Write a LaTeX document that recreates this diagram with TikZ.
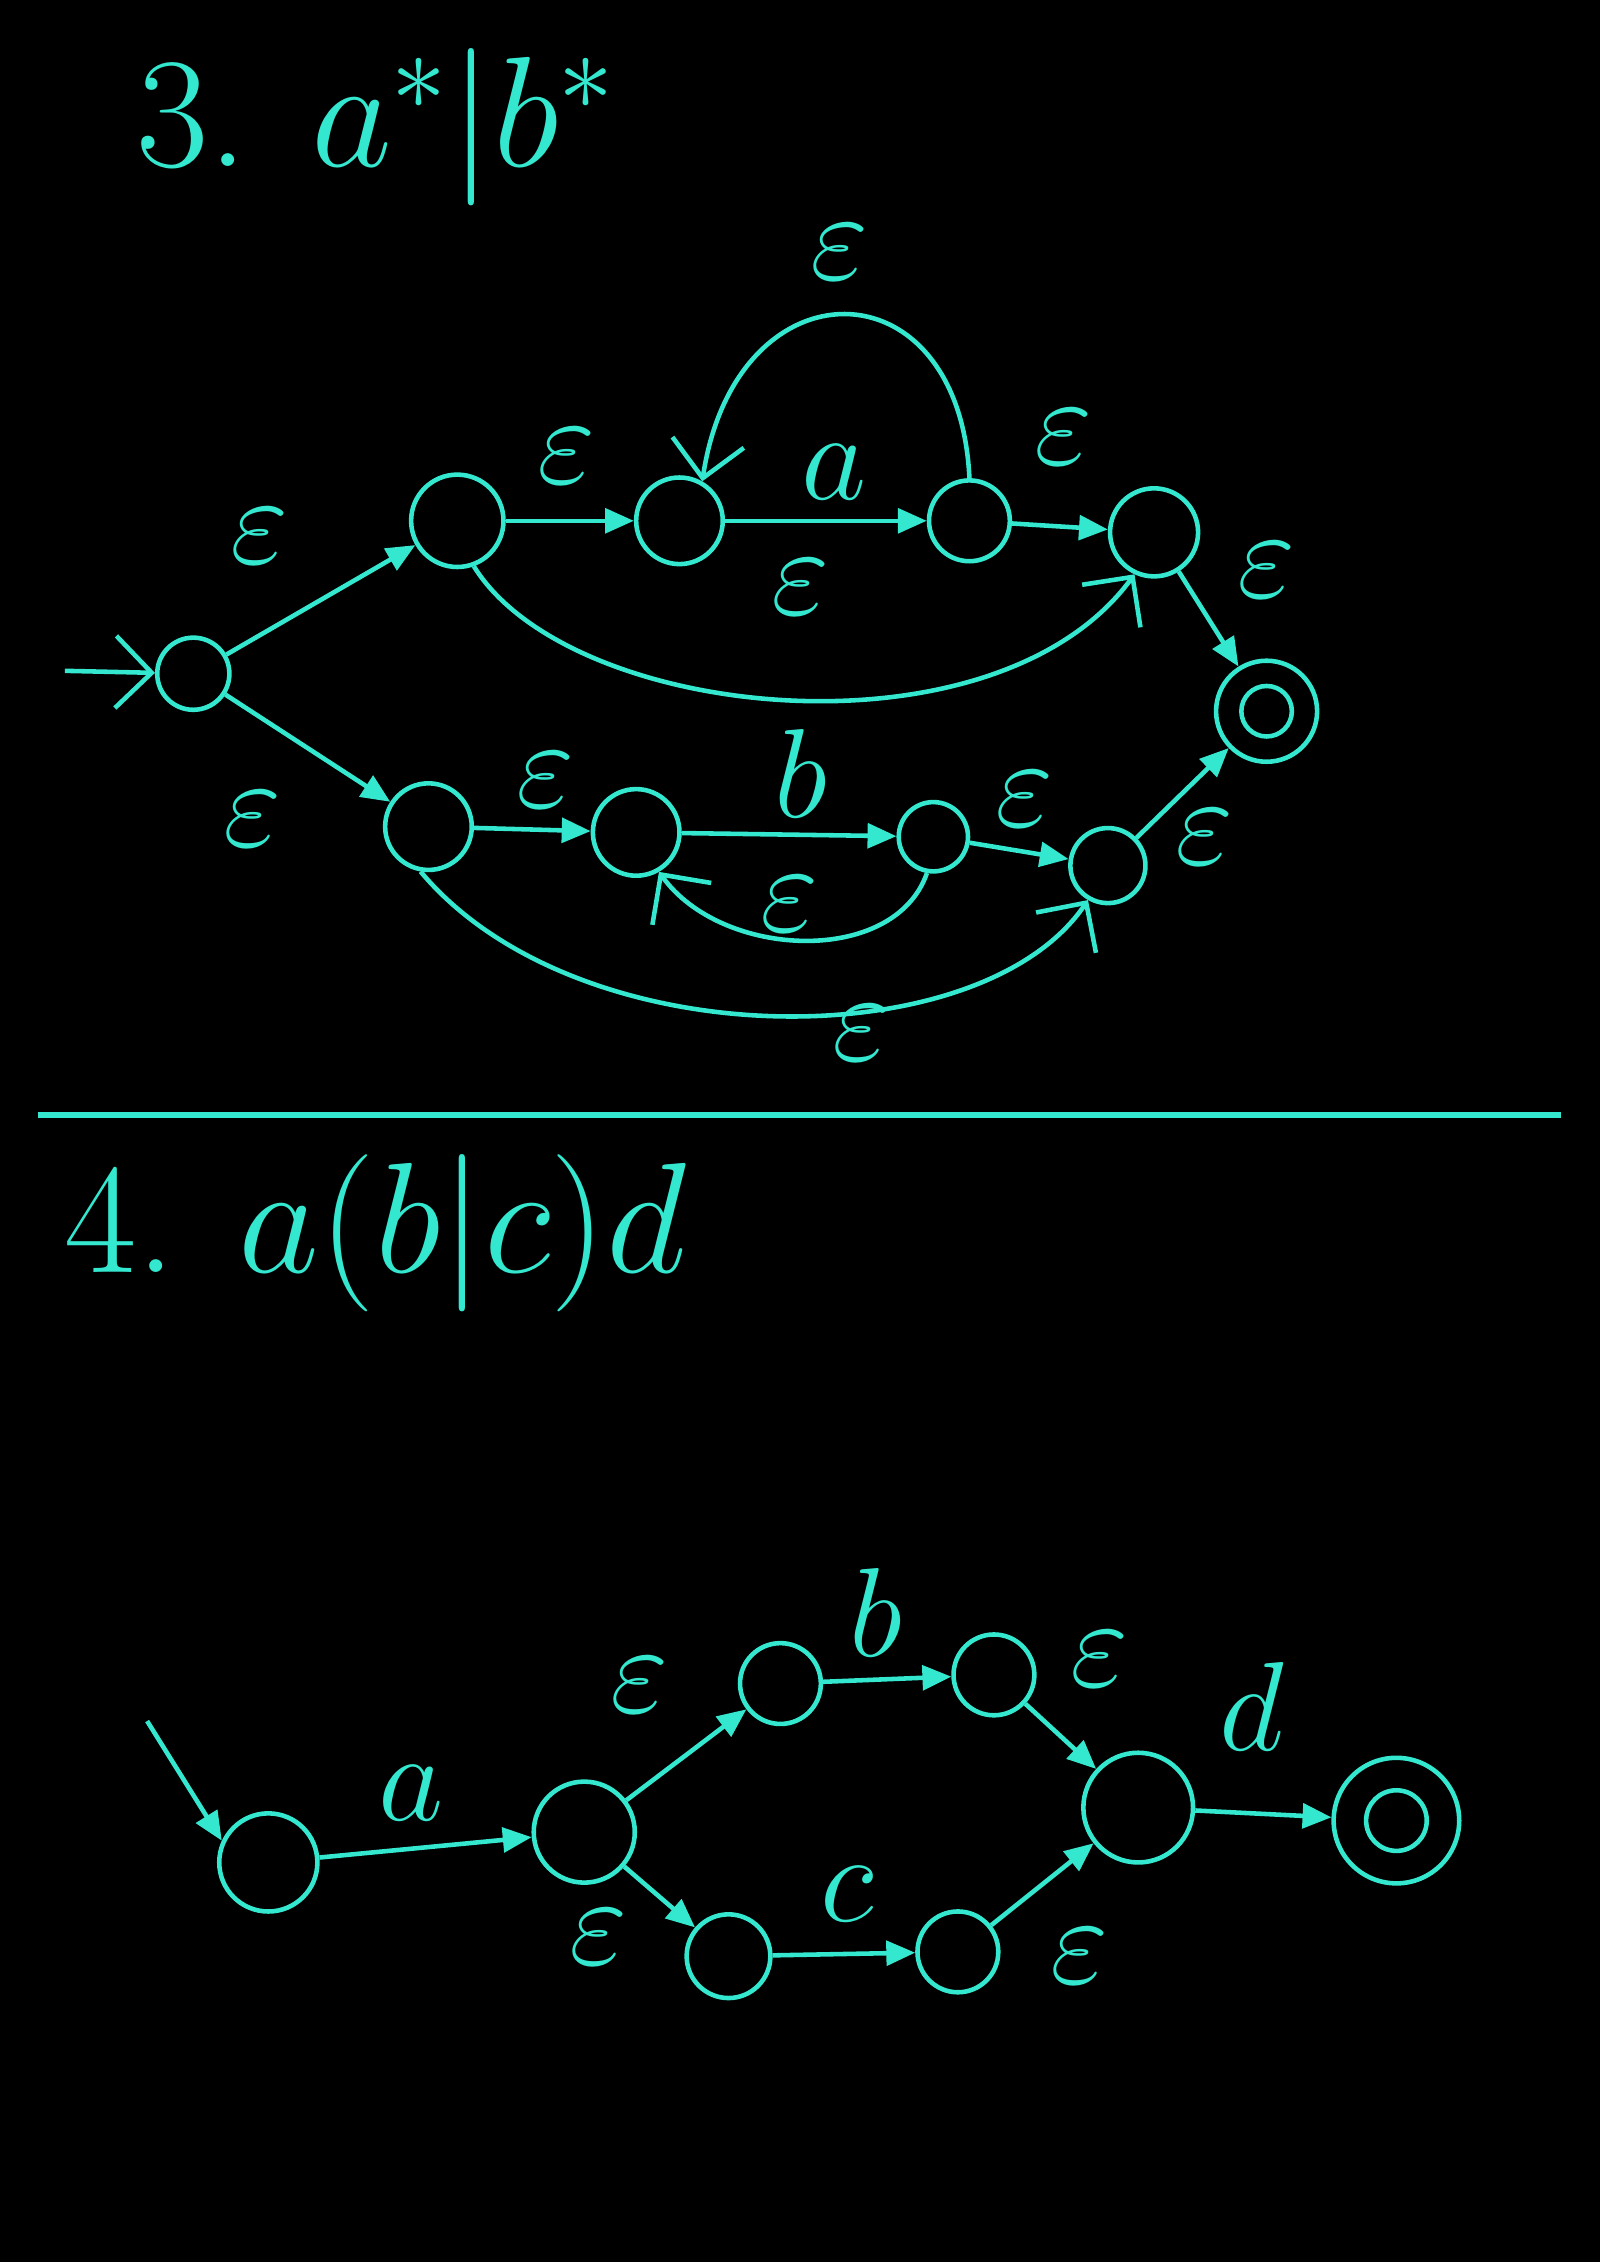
\RequirePackage{fix-cm}
\documentclass[tikz,border=0pt]{standalone}
\usetikzlibrary{arrows.meta}
\definecolor{ink}{RGB}{52,232,208}

\begin{document}
\begin{tikzpicture}[x=0.01cm,y=-0.01cm,>={Triangle[length=2mm,width=1.7mm]},
  state/.style={circle, draw=ink, line width=0.9pt, inner sep=0pt},
  edge/.style={->, draw=ink, line width=0.9pt},
  handedge/.style={-{Straight Barb[length=2.5mm,width=5mm]}, draw=ink, line width=0.9pt},
  lbl/.style={text=ink, inner sep=0.5pt, font=\fontsize{25}{28}\selectfont},
  heading/.style={text=ink, anchor=west, font=\fontsize{31}{36}\selectfont}]

\fill[black] (0,0) rectangle (1109,1568);
\useasboundingbox (0,0) rectangle (1109,1568);

% 3. a*|b*
\node[heading] (h3) at (82,88) {3. $a^*|b^*$};

\node[state, minimum size=0.50cm] (s0) at (134,467) {};
\node[state, minimum size=0.64cm] (s1) at (317,361) {};
\node[state, minimum size=0.60cm] (s2) at (471,361) {};
\node[state, minimum size=0.56cm] (s3) at (672,361) {};
\node[state, minimum size=0.61cm] (s4) at (800,369) {};
\node[state, minimum size=0.70cm] (fa) at (878,493) {};
\node[state, minimum size=0.35cm] (fain) at (fa) {};
\node[state, minimum size=0.60cm] (t1) at (297,573) {};
\node[state, minimum size=0.60cm] (t2) at (441,577) {};
\node[state, minimum size=0.48cm] (t3) at (647,580) {};
\node[state, minimum size=0.52cm] (t4) at (768,600) {};

\coordinate (in0) at (45,465);
\draw[handedge] (in0) -- (s0);

\draw[edge] (s0) -- (s1);
\draw[edge] (s0) -- (t1);
\draw[edge] (s1) -- (s2);
\draw[edge] (s2) -- (s3);
\draw[edge] (s3) -- (s4);
\draw[edge] (s4) -- (fa);
\draw[handedge] (s3.north) .. controls (665,180) and (510,180) .. (s2.60);
\draw[handedge] (s1.290) .. controls (395,500) and (690,530) .. (s4.245);

\draw[edge] (t1) -- (t2);
\draw[edge] (t2) -- (t3);
\draw[edge] (t3) -- (t4);
\draw[edge] (t4) -- (fa);
\draw[handedge] (t3.260) .. controls (620,670) and (500,665) .. (t2.300);
\draw[handedge] (t1.260) .. controls (400,734) and (680,734) .. (t4.240);

\node[lbl] (l01) at (180,372) {$\varepsilon$};
\node[lbl] (l02) at (175,568) {$\varepsilon$};
\node[lbl] (l12) at (393,316) {$\varepsilon$};
\node[lbl] (l23) at (578,327) {$a$};
\node[lbl] (l32) at (582,175) {$\varepsilon$};
\node[lbl] (l14) at (555,407) {$\varepsilon$};
\node[lbl] (l34) at (737,303) {$\varepsilon$};
\node[lbl] (l4f) at (878,395) {$\varepsilon$};
\node[lbl] (lt12) at (378,541) {$\varepsilon$};
\node[lbl] (lt23) at (555,536) {$b$};
\node[lbl] (lt32) at (547,627) {$\varepsilon$};
\node[lbl] (lt34) at (710,554) {$\varepsilon$};
\node[lbl] (lt4f) at (835,580) {$\varepsilon$};
\node[lbl] (lt14) at (597,716) {$\varepsilon$};

\draw[ink, line width=1.3pt] (26,773) -- (1082,773);

% 4. a(b|c)d
\node[heading] (h4) at (32,855) {4. $a(b|c)d$};

\node[state, minimum size=0.68cm] (u0) at (186,1291) {};
\node[state, minimum size=0.70cm] (u1) at (405,1270) {};
\node[state, minimum size=0.56cm] (u2) at (541,1167) {};
\node[state, minimum size=0.56cm] (u3) at (689,1161) {};
\node[state, minimum size=0.58cm] (u4) at (505,1356) {};
\node[state, minimum size=0.56cm] (u5) at (664,1353) {};
\node[state, minimum size=0.76cm] (u6) at (789,1253) {};
\node[state, minimum size=0.87cm] (fb) at (968,1262) {};
\node[state, minimum size=0.42cm] (fbin) at (fb) {};

\coordinate (in1) at (102,1193);
\draw[edge] (in1) -- (u0.155);
\draw[edge] (u0) -- (u1);
\draw[edge] (u1) -- (u2);
\draw[edge] (u1) -- (u4);
\draw[edge] (u2) -- (u3);
\draw[edge] (u4) -- (u5);
\draw[edge] (u3) -- (u6);
\draw[edge] (u5) -- (u6);
\draw[edge] (u6) -- (fb);

\node[lbl] (m01) at (285,1243) {$a$};
\node[lbl] (m12) at (443,1168) {$\varepsilon$};
\node[lbl] (m14) at (415,1343) {$\varepsilon$};
\node[lbl] (m23) at (607,1118) {$b$};
\node[lbl] (m45) at (587,1313) {$c$};
\node[lbl] (m36) at (762,1150) {$\varepsilon$};
\node[lbl] (m56) at (748,1356) {$\varepsilon$};
\node[lbl] (m6f) at (868,1183) {$d$};
\end{tikzpicture}
\end{document}
